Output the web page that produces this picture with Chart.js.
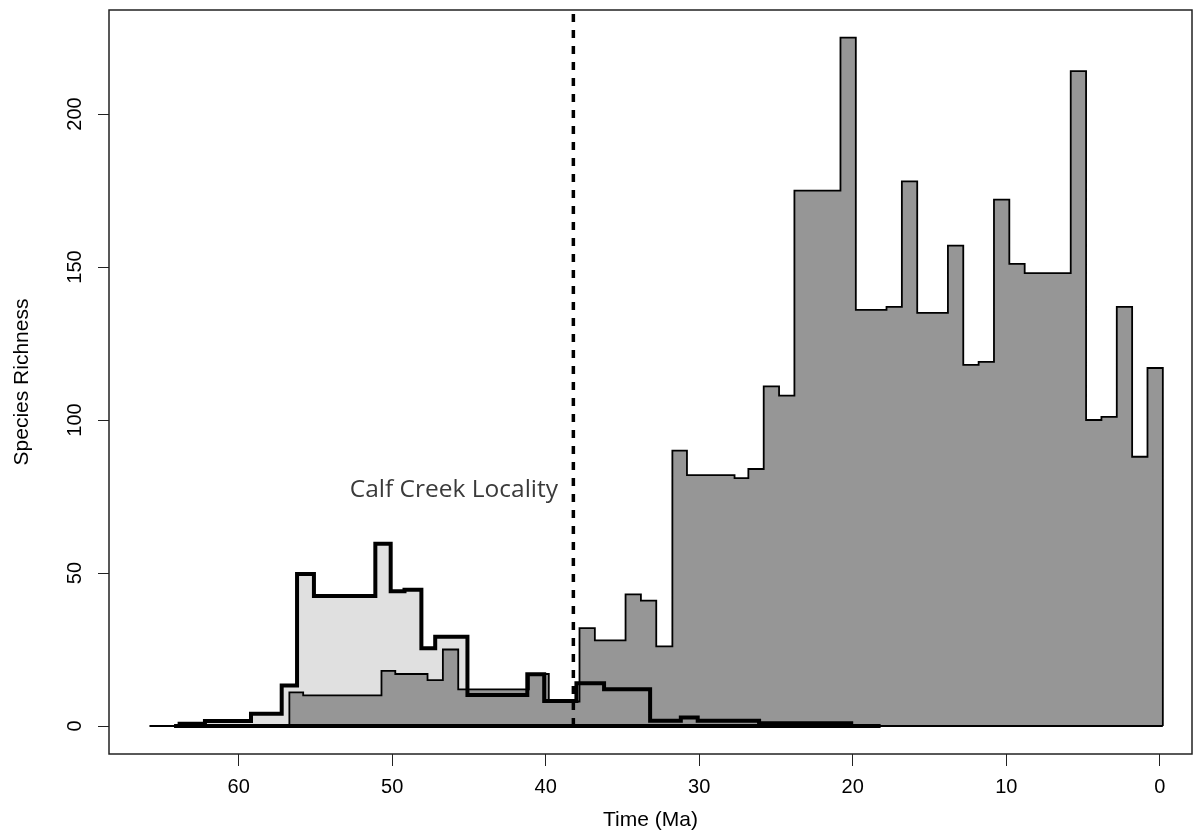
<!DOCTYPE html>
<html>
<head>
<meta charset="utf-8">
<title>Species Richness through time</title>
<script src="https://cdn.jsdelivr.net/npm/chart.js@4.4.1/dist/chart.umd.min.js"></script>
<style>
  html, body { margin: 0; padding: 0; background: #fff; }
  canvas { display: block; }
</style>
</head>
<body>
<canvas id="chart" width="1195" height="836"></canvas>
<script>
// bin edges in Ma (oldest first) and richness per bin
var greyEdges = [65.8, 56.7, 55.8, 50.7, 49.8, 47.7, 46.7, 45.7, 41.1, 39.8,
    37.8, 36.8, 34.8, 33.8, 32.8, 31.75, 30.8, 27.7, 26.8, 25.8,
    24.8, 23.8, 20.8, 19.8, 17.8, 16.8, 15.8, 13.8, 12.8, 11.8,
    10.8, 9.8, 8.8, 5.8, 4.8, 3.8, 2.8, 1.8, 0.8, -0.2];
var greyCounts = [0, 11, 10, 18, 17, 15, 25, 12, 17, 8,
    32, 28, 43, 41, 26, 90, 82, 81, 84, 111,
    108, 175, 225, 136, 137, 178, 135, 157, 118, 119,
    172, 151, 148, 214, 100, 101, 137, 88, 117];

var lightEdges = [64.2, 63.85, 62.2, 59.2, 57.2, 56.2, 55.1, 51.1, 50.1, 49.2,
    48.1, 47.2, 45.1, 41.2, 40.1, 38.0, 36.2, 33.2, 31.2, 30.1,
    26.1, 20.1, 18.2];
var lightCounts = [0, 0.7, 1.6, 4, 13.2, 49.7, 42.5, 59.6, 44, 44.5,
    25.4, 29.2, 10.1, 16.9, 8.2, 14, 12, 1.7, 2.8, 1.7,
    0.9, 0];

var calfCreekAge = 38.2;
var calfLabel = 'Calf Creek Locality';
var calfLabelAge = 39.2;
var calfLabelCount = 75;

var xTicks = [60, 50, 40, 30, 20, 10, 0];
var yTicks = [0, 50, 100, 150, 200];
var xMin = -2.1, xMax = 68.45;
var yMin = -9.15, yMax = 234;

var axisFont = 'Liberation Sans';

function stepPoints(edges, counts) {
    var pts = [{x: edges[0], y: 0}];
    for (var i = 0; i < counts.length; i++) {
        pts.push({x: edges[i], y: counts[i]});
        pts.push({x: edges[i + 1], y: counts[i]});
    }
    pts.push({x: edges[edges.length - 1], y: 0});
    return pts;
}

var greyPoints = stepPoints(greyEdges, greyCounts);
var lightPoints = stepPoints(lightEdges, lightCounts);

var framePlugin = {
    id: 'frame',
    beforeDraw: function (chart) {
        var ctx = chart.ctx;
        ctx.save();
        ctx.fillStyle = '#fff';
        ctx.fillRect(0, 0, chart.width, chart.height);
        ctx.restore();
    },
    afterDraw: function (chart) {
        var ctx = chart.ctx;
        var a = chart.chartArea;
        var xs = chart.scales.x, ys = chart.scales.y;
        ctx.save();
        ctx.strokeStyle = '#222';
        ctx.lineWidth = 1.5;
        ctx.strokeRect(a.left, a.top, a.right - a.left, a.bottom - a.top);

        // y tick labels, rotated like base R
        ctx.fillStyle = '#000';
        ctx.font = '20px "' + axisFont + '"';
        ctx.textAlign = 'center';
        ctx.textBaseline = 'middle';
        yTicks.forEach(function (v) {
            ctx.save();
            ctx.translate(a.left - 34, ys.getPixelForValue(v));
            ctx.rotate(-Math.PI / 2);
            ctx.fillText(String(v), 0, 0);
            ctx.restore();
        });

        ctx.font = '24.5px "Open Sans"';
        ctx.fillStyle = '#3a3a3a';
        ctx.textAlign = 'right';
        ctx.textBaseline = 'alphabetic';
        ctx.fillText(calfLabel, xs.getPixelForValue(calfLabelAge), ys.getPixelForValue(calfLabelCount));
        ctx.restore();
    }
};

new Chart(document.getElementById('chart'), {
    type: 'line',
    data: {
        datasets: [
            {
                data: [{x: calfCreekAge, y: 0}, {x: calfCreekAge, y: yMax}],
                borderColor: '#000',
                borderWidth: 3.5,
                borderDash: [8, 8],
                fill: false,
                order: 0
            },
            {
                data: lightPoints,
                borderColor: '#000',
                borderWidth: 4,
                borderJoinStyle: 'miter',
                fill: false,
                order: 1
            },
            {
                data: [{x: lightEdges[0], y: 0}, {x: lightEdges[lightEdges.length - 1], y: 0}],
                borderColor: '#000',
                borderWidth: 4,
                fill: false,
                order: 2
            },
            {
                data: [{x: greyEdges[0], y: 0}, {x: greyEdges[greyEdges.length - 1], y: 0}],
                borderColor: '#000',
                borderWidth: 1.8,
                fill: false,
                order: 3
            },
            {
                data: greyPoints,
                borderColor: '#000',
                borderWidth: 1.8,
                borderJoinStyle: 'miter',
                backgroundColor: '#969696',
                fill: 'origin',
                order: 4
            },
            {
                data: lightPoints,
                borderWidth: 0,
                borderColor: 'rgba(0,0,0,0)',
                backgroundColor: '#e0e0e0',
                fill: 'origin',
                order: 5
            }
        ]
    },
    options: {
        responsive: false,
        animation: false,
        devicePixelRatio: 1,
        layout: {padding: {top: 10, right: 3, left: 0, bottom: 0}},
        plugins: {
            legend: {display: false},
            tooltip: {enabled: false}
        },
        elements: {
            point: {radius: 0, hoverRadius: 0},
            line: {tension: 0}
        },
        scales: {
            x: {
                type: 'linear',
                reverse: true,
                min: xMin,
                max: xMax,
                afterFit: function (scale) { scale.height = 82; },
                afterBuildTicks: function (scale) {
                    scale.ticks = xTicks.map(function (v) { return {value: v}; });
                },
                grid: {drawOnChartArea: false, drawTicks: true, tickLength: 12, color: '#222', lineWidth: 1},
                border: {display: false},
                ticks: {
                    autoSkip: false,
                    maxRotation: 0,
                    padding: 9,
                    color: '#000',
                    font: {family: axisFont, size: 20}
                },
                title: {
                    display: true,
                    text: 'Time (Ma)',
                    color: '#000',
                    font: {family: axisFont, size: 21},
                    padding: {top: 0, bottom: 3}
                }
            },
            y: {
                type: 'linear',
                min: yMin,
                max: yMax,
                afterFit: function (scale) { scale.width = 109; },
                afterBuildTicks: function (scale) {
                    scale.ticks = yTicks.map(function (v) { return {value: v}; });
                },
                grid: {drawOnChartArea: false, drawTicks: true, tickLength: 11, color: '#222', lineWidth: 1},
                border: {display: false},
                ticks: {display: false},
                title: {
                    display: true,
                    text: 'Species Richness',
                    color: '#000',
                    font: {family: axisFont, size: 21},
                    padding: {top: 10, bottom: 0}
                }
            }
        }
    },
    plugins: [framePlugin]
});
</script>
</body>
</html>
